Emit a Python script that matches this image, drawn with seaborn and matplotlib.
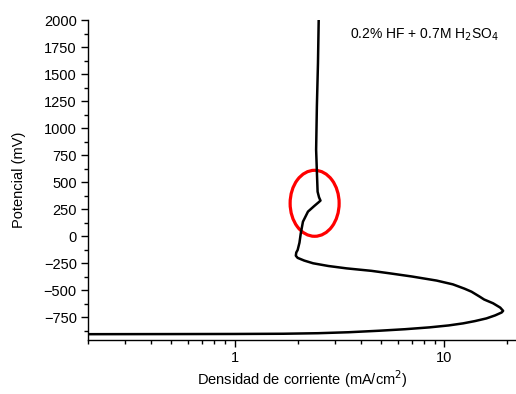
import math
import matplotlib
matplotlib.use("Agg")
import matplotlib.pyplot as plt
from matplotlib.patches import Ellipse
from matplotlib.ticker import FixedLocator, NullFormatter, FixedFormatter
import seaborn as sns
import pandas as pd

# Polarization curve (path order: cathodic branch -> passive region)
current = [0.2, 0.5, 1.0, 1.7, 2.5, 3.5, 4.9, 6.5, 8.5, 10.5, 12.3, 14.0, 15.9, 17.5, 18.8, 19.1,
           18.5, 17.1, 15.5, 14.8, 13.5, 12.5, 11.0, 9.2, 7.0, 5.5, 4.5, 3.42, 2.8, 2.37, 2.15, 2.0, 1.96,
           1.97, 2.0, 2.04, 2.07, 2.12, 2.24, 2.40, 2.52, 2.57, 2.53, 2.49, 2.47, 2.45, 2.47, 2.50, 2.52]
potential = [-906, -905, -904, -902, -897, -888, -874, -860, -843, -825, -806, -785, -760, -732, -705, -690,
             -660, -620, -585, -560, -513, -485, -445, -410, -372, -343, -320, -297, -275, -250, -225, -200, -180,
             -150, -127, -60, 27, 135, 228, 280, 315, 330, 360, 412, 600, 800, 1200, 1600, 2000]

xticks_major = [1, 10]
xtick_labels = ["1", "10"]
xticks_minor = [0.2, 0.3, 0.4, 0.5, 0.6, 0.7, 0.8, 0.9, 2, 3, 4, 5, 6, 7, 8, 9, 20]
yticks = [-750, -500, -250, 0, 250, 500, 750, 1000, 1250, 1500, 1750, 2000]
yticks_minor = [-875, -625, -375, -125, 125, 375, 625, 875, 1125, 1375, 1625, 1875]

sns.set_theme(style="ticks")
plt.rcParams['font.family'] = ['Liberation Sans', 'DejaVu Sans']

df = pd.DataFrame({"current": current, "potential": potential})

fig = plt.figure(figsize=(5.16, 3.94), dpi=100)
ax = fig.add_axes([0.1705, 0.137, 0.8295, 0.812])
sns.lineplot(data=df, x="current", y="potential", sort=False, color="black",
             linewidth=1.8, ax=ax, estimator=None)
ax.set_xscale("log")
ax.set_xlim(0.2, 22)
ax.set_ylim(-960, 2000)

ax.xaxis.set_major_locator(FixedLocator(xticks_major))
ax.xaxis.set_major_formatter(FixedFormatter(xtick_labels))
ax.xaxis.set_minor_locator(FixedLocator(xticks_minor))
ax.xaxis.set_minor_formatter(NullFormatter())
ax.set_yticks(yticks)
ax.set_yticks(yticks_minor, minor=True)

ax.tick_params(axis="both", which="major", direction="out", length=5, width=1,
               labelsize=10.5, colors="black", pad=3)
ax.tick_params(axis="both", which="minor", direction="out", length=3, width=1, colors="black")

for s in ["top", "right"]:
    ax.spines[s].set_visible(False)
for s in ["left", "bottom"]:
    ax.spines[s].set_color("black")
    ax.spines[s].set_linewidth(1.0)

ax.set_xlabel("Densidad de corriente (mA/cm$^2$)", fontsize=10.5, color="black", labelpad=2)
ax.set_ylabel("Potencial (mV)", fontsize=10.5, color="black", labelpad=13)

ax.text(0.96, 0.955, "0.2% HF + 0.7M H$_2$SO$_4$", transform=ax.transAxes,
        ha="right", va="center", fontsize=10, color="black")

# Red ellipse highlighting the active-passive transition
lx0, lx1 = math.log10(0.2), math.log10(22)
xc_axes = (math.log10(2.41) - lx0) / (lx1 - lx0)
yc_axes = (305 + 960) / 2960
ell = Ellipse((xc_axes, yc_axes), width=49 / 428, height=66 / 320, transform=ax.transAxes,
              fill=False, edgecolor="red", linewidth=2.3)
ax.add_patch(ell)

fig.savefig("out.png", dpi=100)
